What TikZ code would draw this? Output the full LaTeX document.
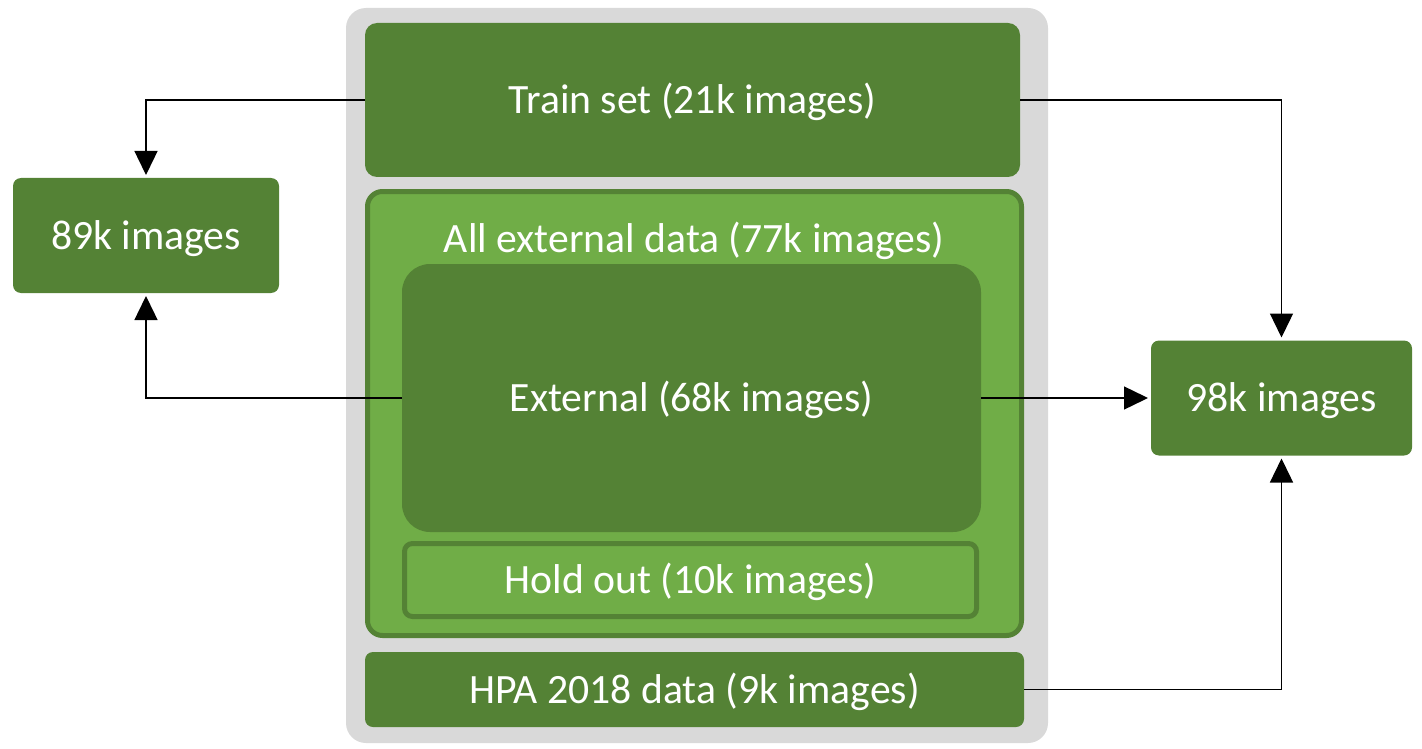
\documentclass[tikz,border=0pt]{standalone}
\usepackage{fontspec}
\setmainfont{Carlito}
\usetikzlibrary{arrows.meta}
\definecolor{dkgreen}{HTML}{548235}
\definecolor{ltgreen}{HTML}{70AD47}
\definecolor{bggray}{HTML}{D9D9D9}
\begin{document}
\begin{tikzpicture}[x=1pt,y=-1pt,
  box/.style={rectangle,inner sep=0pt,outer sep=0pt,anchor=center,text=white,text height=27pt,text depth=0pt,font=\fontsize{41.7}{50}\selectfont},
  dkbox/.style={box,fill=dkgreen},
  ltbox/.style={box,fill=ltgreen,draw=dkgreen,line width=5pt},
  conn/.style={draw=black,line width=1.4pt,-{Triangle[length=24pt,width=23pt]},shorten >=3pt}]
\useasboundingbox (0,0) rectangle (1422,749);
\node[box,fill=bggray,rounded corners=20pt,minimum width=702pt,minimum height=735pt] (bg) at (697,375.5) {};
\node[dkbox,rounded corners=12pt,minimum width=655pt,minimum height=154pt] (train) at (692.5,100) {Train set (21k images)};
\node[ltbox,rounded corners=15pt,minimum width=654pt,minimum height=444pt] (allext) at (694.5,413.5) {};
\node[box] (allextlabel) at (694,239) {All external data (77k images)};
\node[dkbox,rounded corners=28pt,minimum width=579pt,minimum height=268pt] (ext) at (691.5,398) {External (68k images)};
\node[ltbox,rounded corners=8pt,minimum width=572pt,minimum height=73pt] (hold) at (690.5,580) {Hold out (10k images)};
\node[dkbox,rounded corners=8pt,minimum width=659pt,minimum height=75pt] (hpa) at (694.5,689.5) {HPA 2018 data (9k images)};
\node[dkbox,rounded corners=8pt,minimum width=266pt,minimum height=115pt] (n89) at (146,235.5) {89k images};
\node[dkbox,rounded corners=8pt,minimum width=261pt,minimum height=115pt] (n98) at (1281.5,398) {98k images};
\draw[conn] (train.west) -| (n89.north);
\draw[conn] (ext.west) -| (n89.south);
\draw[conn] (train.east) -| (n98.north);
\draw[conn] (ext.east) -- (n98.west);
\draw[conn] (hpa.east) -| (n98.south);
\end{tikzpicture}
\end{document}
